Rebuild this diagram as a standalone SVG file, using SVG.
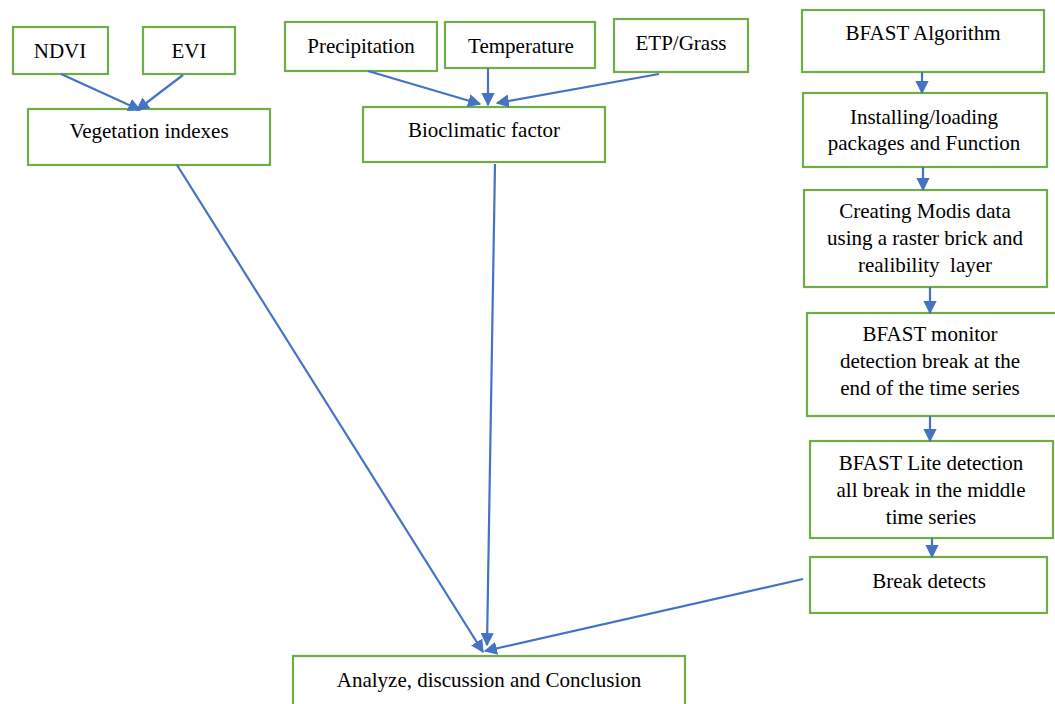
<svg xmlns="http://www.w3.org/2000/svg" width="1055" height="704" viewBox="0 0 1055 704">
<style>
.box{fill:#fff;stroke:#70AD47;stroke-width:2.2}
.t{font-family:"Liberation Serif","Times New Roman",serif;font-size:21px;fill:#000;text-anchor:middle}
.c{stroke:#4472C4;stroke-width:2.2;fill:none;marker-end:url(#ah)}
</style>
<defs>
<marker id="ah" viewBox="0 0 10 10" refX="9" refY="5" markerWidth="6" markerHeight="6" markerUnits="strokeWidth" orient="auto">
<path d="M0,0 L10,5 L0,10 z" fill="#4472C4"/>
</marker>
</defs>
<rect width="1055" height="704" fill="#fff"/>
<g id="ndvi"><rect class="box" x="13" y="27" width="95" height="47"/><text class="t" x="60" y="58">NDVI</text></g>
<g id="evi"><rect class="box" x="143" y="27" width="92" height="47"/><text class="t" x="189" y="58">EVI</text></g>
<g id="veg"><rect class="box" x="28" y="109" width="242" height="56"/><text class="t" x="149" y="138">Vegetation indexes</text></g>
<g id="precip"><rect class="box" x="285" y="22" width="152" height="49"/><text class="t" x="361" y="53">Precipitation</text></g>
<g id="temp"><rect class="box" x="445" y="22" width="150" height="46"/><text class="t" x="521" y="53">Temperature</text></g>
<g id="etp"><rect class="box" x="614" y="19" width="134" height="53"/><text class="t" x="681" y="50">ETP/Grass</text></g>
<g id="bio"><rect class="box" x="363" y="107" width="242" height="55"/><text class="t" x="484" y="137">Bioclimatic factor</text></g>
<g id="bfast"><rect class="box" x="802" y="10" width="242" height="62"/><text class="t" x="923" y="40">BFAST Algorithm</text></g>
<g id="install"><rect class="box" x="803" y="93" width="244" height="74"/><text class="t" x="924" y="124">Installing/loading</text><text class="t" x="924" y="150">packages and Function</text></g>
<g id="modis"><rect class="box" x="804" y="190" width="243" height="97"/><text class="t" x="925" y="218">Creating Modis data</text><text class="t" x="925" y="245">using a raster brick and</text><text class="t" x="925" y="272" xml:space="preserve">realibility  layer</text></g>
<g id="monitor"><rect class="box" x="807" y="313" width="250" height="103"/><text class="t" x="930" y="341">BFAST monitor</text><text class="t" x="930" y="368">detection break at the</text><text class="t" x="930" y="395">end of the time series</text></g>
<g id="lite"><rect class="box" x="810" y="441" width="243" height="97"/><text class="t" x="931" y="470">BFAST Lite detection</text><text class="t" x="931" y="497">all break in the middle</text><text class="t" x="931" y="524">time series</text></g>
<g id="break"><rect class="box" x="810" y="557" width="237" height="56"/><text class="t" x="929" y="588">Break detects</text></g>
<g id="analyze"><rect class="box" x="293" y="656" width="392" height="60"/><text class="t" x="489" y="687">Analyze, discussion and Conclusion</text></g>
<g id="connectors">
<line class="c" x1="61" y1="74" x2="140" y2="110"/>
<line class="c" x1="183" y1="75" x2="137" y2="110"/>
<line class="c" x1="368" y1="71" x2="480" y2="104"/>
<line class="c" x1="488" y1="68" x2="488" y2="105"/>
<line class="c" x1="659" y1="74" x2="497" y2="103"/>
<line class="c" x1="922" y1="72" x2="922" y2="93"/>
<line class="c" x1="923" y1="167" x2="923" y2="190"/>
<line class="c" x1="930" y1="287" x2="930" y2="313"/>
<line class="c" x1="930" y1="416" x2="930" y2="441"/>
<line class="c" x1="932" y1="538" x2="932" y2="557"/>
<line class="c" x1="177" y1="165" x2="483" y2="652"/>
<line class="c" x1="495" y1="164" x2="487" y2="645"/>
<line class="c" x1="803" y1="579" x2="485" y2="651"/>
</g>
</svg>
